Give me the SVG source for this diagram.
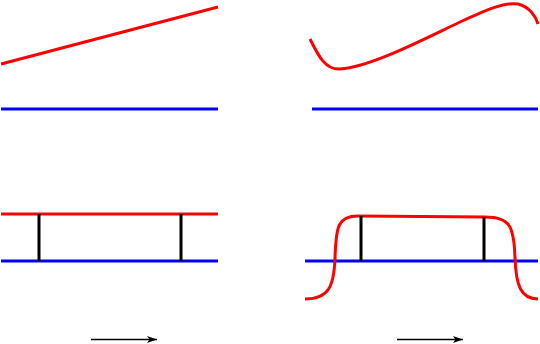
<svg xmlns="http://www.w3.org/2000/svg" width="540" height="344" viewBox="0 0 540 344">
<style>
.red{fill:none;stroke:#ff0000;stroke-width:3}
.blue{fill:none;stroke:#0000ff;stroke-width:3}
.bar{fill:none;stroke:#000;stroke-width:3}
.arr{fill:none;stroke:#000;stroke-width:1.3}
</style>
<defs>
<marker id="ah" viewBox="0 0 10 7" refX="10" refY="3.5" markerWidth="10" markerHeight="7" markerUnits="userSpaceOnUse" orient="auto">
<path d="M0,0 L10,3.5 L0,7 L2.5,3.5 z" fill="#000"/>
</marker>
</defs>
<rect width="540" height="344" fill="#fff"/>
<g id="panel-top-left">
<line class="red" x1="1" y1="64" x2="218" y2="7"/>
<line class="blue" x1="1" y1="109" x2="218" y2="109"/>
</g>
<g id="panel-top-right">
<path class="red" d="M310,39 C318,55 325,70 340,69 C370,67 420,41 460,22 C488,9 505,2 518,4 C530,7 536,17 538,24"/>
<line class="blue" x1="312" y1="109" x2="538" y2="109"/>
</g>
<g id="panel-bottom-left">
<line class="red" x1="1" y1="214" x2="218" y2="214"/>
<line class="blue" x1="1" y1="261" x2="218" y2="261"/>
<line class="bar" x1="39" y1="214" x2="39" y2="261"/>
<line class="bar" x1="181" y1="214" x2="181" y2="261"/>
</g>
<g id="panel-bottom-right">
<line class="blue" x1="305" y1="261" x2="538" y2="261"/>
<path class="red" d="M305,299 C329,299 334,286 335,258 C336,226 338,216 358,216 L485,217 C510,217 514,226 515,258 C516,286 521,299 538,299"/>
<line class="bar" x1="361" y1="216" x2="361" y2="261"/>
<line class="bar" x1="484" y1="217" x2="484" y2="261"/>
</g>
<g id="connectors">
<line class="arr" x1="91" y1="339.5" x2="157" y2="339.5" marker-end="url(#ah)"/>
<line class="arr" x1="397" y1="339.5" x2="463" y2="339.5" marker-end="url(#ah)"/>
</g>
</svg>
